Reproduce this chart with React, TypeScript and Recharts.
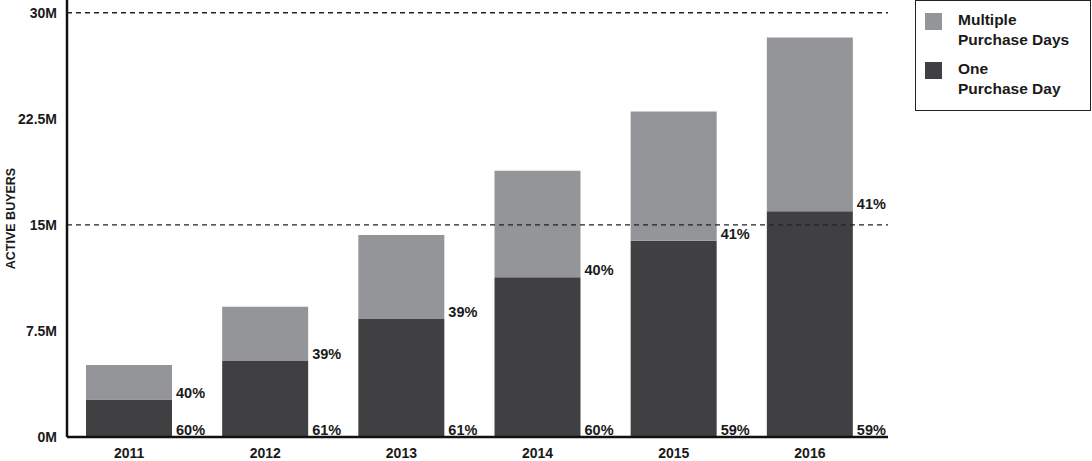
import { Bar, BarChart, LabelList, ReferenceLine, XAxis, YAxis, Label } from 'recharts'

const years = ['2011', '2012', '2013', '2014', '2015', '2016']
// millions of active buyers
const onePurchaseDay = [2.65, 5.37, 8.34, 11.29, 13.87, 15.97]
const multiplePurchaseDays = [2.44, 3.84, 5.94, 7.53, 9.15, 12.28]
const onePct = ['60%', '61%', '61%', '60%', '59%', '59%']
const multiPct = ['40%', '39%', '39%', '40%', '41%', '41%']
const yTicks = [0, 7.5, 15, 22.5, 30]
const yTickLabels = ['0M', '7.5M', '15M', '22.5M', '30M']

const DARK = '#404042'
const LIGHT = '#939598'
const FONT = '"Liberation Sans", Arial, sans-serif'

const data = years.map((year, i) => ({
  year,
  one: onePurchaseDay[i],
  multiple: multiplePurchaseDays[i],
  onePct: onePct[i],
  multiPct: multiPct[i],
}))

const pctLabel = (props: any) => {
  const { x, y, width, height, value } = props
  return (
    <text
      x={Number(x) + Number(width) + 4}
      y={Number(y) + Number(height) - 2}
      fontFamily={FONT}
      fontWeight={700}
      fontSize={14.5}
      fill="#1a1a1a"
    >
      {value}
    </text>
  )
}

const legendItems = [
  { color: LIGHT, lines: ['Multiple', 'Purchase Days'] },
  { color: DARK, lines: ['One', 'Purchase Day'] },
]

function LegendBox() {
  return (
    <div
      style={{
        position: 'absolute',
        left: 915,
        top: 0,
        boxSizing: 'border-box',
        width: 176,
        height: 111,
        border: '1.5px solid #222',
        background: '#fff',
        padding: '9px 0 0 9px',
        fontFamily: FONT,
        fontWeight: 700,
        fontSize: 15.5,
        lineHeight: '20px',
        color: '#1a1a1a',
      }}
    >
      {legendItems.map((item, i) => (
        <div key={i} style={{ display: 'flex', marginBottom: i === 0 ? 9 : 0 }}>
          <div
            style={{
              width: 17,
              height: 17,
              background: item.color,
              marginTop: 3,
              marginRight: 16,
              flexShrink: 0,
            }}
          />
          <div>
            {item.lines.map((l) => (
              <div key={l}>{l}</div>
            ))}
          </div>
        </div>
      ))}
    </div>
  )
}

export default function App() {
  return (
    <div style={{ position: 'absolute', left: 0, top: 0, width: 1092, height: 461, background: '#fff' }}>
      <BarChart
        width={1092}
        height={461}
        data={data}
        margin={{ top: 0, right: 204, bottom: 0, left: 0 }}
        barSize={86}
      >
        <XAxis
          dataKey="year"
          height={24}
          padding={{ left: -6, right: 10 }}
          tickLine={false}
          tickSize={0}
          tickMargin={11}
          axisLine={{ stroke: '#111', strokeWidth: 2.5 }}
          tick={{ fontFamily: FONT, fontWeight: 700, fontSize: 14, fill: '#1a1a1a' }}
        />
        <YAxis
          width={67}
          domain={[0, 30.9]}
          ticks={yTicks}
          tickFormatter={(v: number) => yTickLabels[yTicks.indexOf(v)]}
          tickLine={false}
          tickSize={0}
          tickMargin={10}
          axisLine={{ stroke: '#111', strokeWidth: 2.5 }}
          tick={{ fontFamily: FONT, fontWeight: 700, fontSize: 14, fill: '#1a1a1a' }}
        >
          <Label
            content={({ viewBox }: any) => {
              const cx = viewBox.x + 11
              const cy = viewBox.y + viewBox.height / 2
              return (
                <text
                  x={cx}
                  y={cy}
                  transform={`rotate(-90 ${cx} ${cy})`}
                  textAnchor="middle"
                  dominantBaseline="central"
                  fontFamily={FONT}
                  fontWeight={700}
                  fontSize={12.5}
                  fill="#1a1a1a"
                >
                  ACTIVE BUYERS
                </text>
              )
            }}
          />
        </YAxis>
        <ReferenceLine y={15} stroke="#222" strokeDasharray="5 4" strokeWidth={1.3} />
        <ReferenceLine y={30} stroke="#222" strokeDasharray="5 4" strokeWidth={1.3} />
        <Bar dataKey="one" stackId="a" fill={DARK} isAnimationActive={false}>
          <LabelList dataKey="onePct" content={pctLabel} />
        </Bar>
        <Bar dataKey="multiple" stackId="a" fill={LIGHT} isAnimationActive={false}>
          <LabelList dataKey="multiPct" content={pctLabel} />
        </Bar>
      </BarChart>
      <LegendBox />
    </div>
  )
}
